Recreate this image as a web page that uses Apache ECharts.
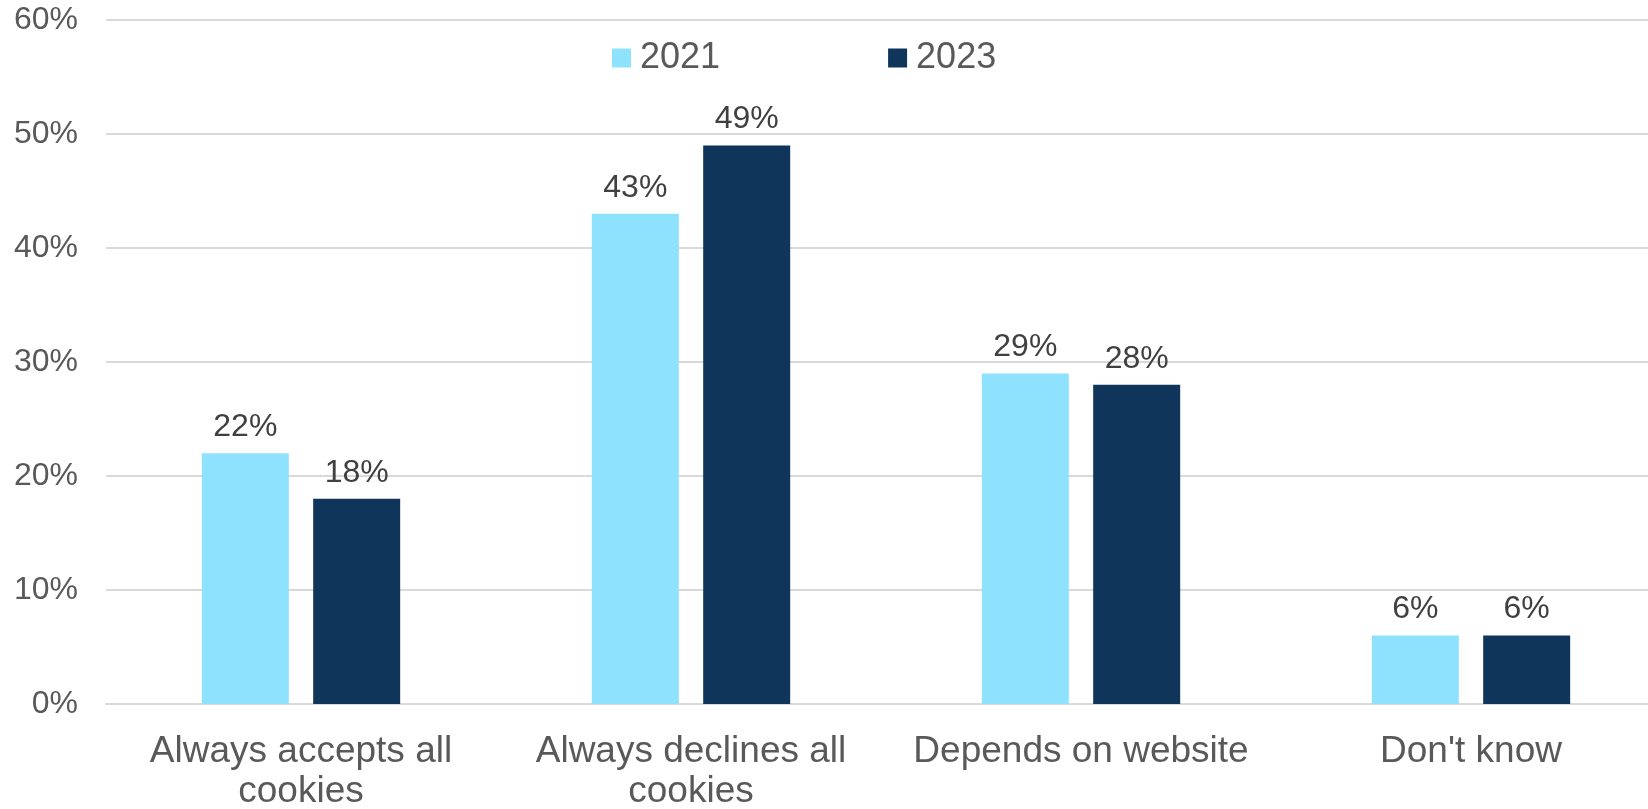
<!DOCTYPE html>
<html>
<head>
<meta charset="utf-8">
<script src="https://cdn.jsdelivr.net/npm/echarts@6/dist/echarts.min.js"></script>
<style>
  html, body { margin: 0; padding: 0; background: #fff; }
  #chart { width: 1648px; height: 809px; }
</style>
</head>
<body>
<div id="chart"></div>
<script>
// Cookie handling behaviour, share of respondents (%)
const categories = ['Always accepts all cookies', 'Always declines all cookies', 'Depends on website', "Don't know"];
const seriesNames = ['2021', '2023'];
const values2021 = [22, 43, 29, 6];
const values2023 = [18, 49, 28, 6];
const yTicks = [0, 10, 20, 30, 40, 50, 60];

const colors = ['#8EE2FE', '#10355A'];
const fontFamily = '"Liberation Sans", Arial, sans-serif';
const catFontSize = 37;
const catMaxWidth = 345;

// Word-wrap a category name so each line fits the given width (no trailing spaces)
const measureCtx = document.createElement('canvas').getContext('2d');
function wrapLabel(text) {
  measureCtx.font = catFontSize + 'px ' + fontFamily;
  const words = text.split(' ');
  const lines = [];
  let line = '';
  words.forEach(function (w) {
    const trial = line ? line + ' ' + w : w;
    if (line && measureCtx.measureText(trial).width > catMaxWidth) {
      lines.push(line);
      line = w;
    } else {
      line = trial;
    }
  });
  if (line) lines.push(line);
  return lines.join('\n');
}

const chart = echarts.init(document.getElementById('chart'), null, { renderer: 'canvas' });

const labelStyle = {
  show: true,
  position: 'top',
  distance: 10,
  formatter: '{c}%',
  color: '#404040',
  fontSize: 32,
  fontFamily: fontFamily
};

chart.setOption({
  animation: false,
  backgroundColor: '#ffffff',
  // plot area runs a little past the right edge of the canvas
  grid: { left: 106, top: 20, width: 1560, bottom: 105, containLabel: false, outerBoundsMode: 'none' },
  legend: {
    left: 607,
    top: 35,
    itemWidth: 19,
    itemHeight: 19,
    itemGap: 168,
    icon: 'rect',
    textStyle: { color: '#595959', fontSize: 36, fontFamily: fontFamily, padding: [0, 0, 0, 4] },
    data: seriesNames
  },
  xAxis: {
    type: 'category',
    data: categories,
    axisLine: { show: true, lineStyle: { color: '#D9D9D9', width: 2 } },
    axisTick: { show: false },
    axisLabel: {
      interval: 0,
      margin: 28,
      color: '#595959',
      fontSize: catFontSize,
      lineHeight: 40,
      fontFamily: fontFamily,
      formatter: wrapLabel
    }
  },
  yAxis: {
    type: 'value',
    min: yTicks[0],
    max: yTicks[yTicks.length - 1],
    interval: yTicks[1] - yTicks[0],
    axisLine: { show: false },
    axisTick: { show: false },
    splitLine: { lineStyle: { color: '#D9D9D9', width: 2 } },
    axisLabel: {
      margin: 28,
      color: '#595959',
      fontSize: 32,
      fontFamily: fontFamily,
      formatter: '{value}%'
    }
  },
  series: [
    {
      name: seriesNames[0],
      type: 'bar',
      data: values2021,
      barWidth: 87,
      barGap: '28%',
      itemStyle: { color: colors[0] },
      label: labelStyle
    },
    {
      name: seriesNames[1],
      type: 'bar',
      data: values2023,
      barWidth: 87,
      barGap: '28%',
      itemStyle: { color: colors[1] },
      label: labelStyle
    }
  ]
});
</script>
</body>
</html>
